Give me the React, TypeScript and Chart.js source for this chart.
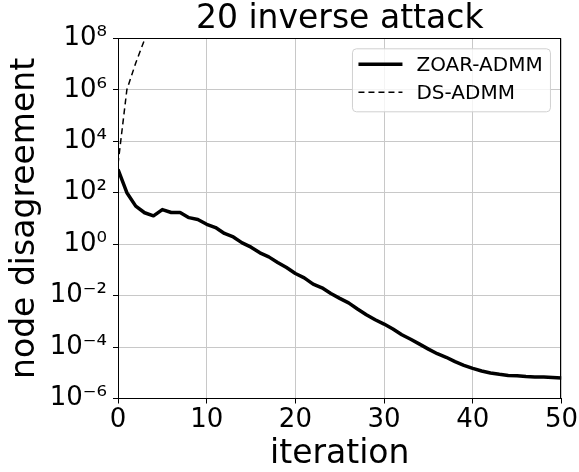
import { useEffect, useRef } from "react";
import { Chart, registerables } from "chart.js";

Chart.register(...registerables);

// ---- data ----
const iterations = [
  0, 1, 2, 3, 4, 5, 6, 7, 8, 9, 10, 11, 12, 13, 14, 15, 16, 17, 18, 19, 20,
  21, 22, 23, 24, 25, 26, 27, 28, 29, 30, 31, 32, 33, 34, 35, 36, 37, 38, 39,
  40, 41, 42, 43, 44, 45, 46, 47, 48, 49, 50,
];
const zoarAdmm = [
  8.0e2, 1.0e2, 30, 16.6, 12.6, 22, 17, 17, 10.7, 9.1, 5.9, 4.4, 2.6, 1.9,
  1.12, 0.76, 0.46, 0.32, 0.195, 0.123, 0.072, 0.049, 0.028, 0.02, 0.012,
  0.0078, 0.0052, 0.003, 0.0018, 0.00115, 7.8e-4, 5.0e-4, 3.0e-4, 2.0e-4,
  1.3e-4, 8.3e-5, 5.5e-5, 4.0e-5, 2.7e-5, 1.95e-5, 1.48e-5, 1.17e-5, 9.8e-6,
  8.7e-6, 7.9e-6, 7.6e-6, 7.1e-6, 6.9e-6, 6.8e-6, 6.5e-6, 6.3e-6,
];
const dsIterations = [0, 1, 2, 3, 4];
const dsAdmm = [1.3e3, 1.0e6, 1.1e7, 9e7, 6e8];

const xTickValues = [0, 10, 20, 30, 40, 50];
const yTickValues = [1e-6, 1e-4, 1e-2, 1, 1e2, 1e4, 1e6, 1e8];
const yTickLabels = ["10⁻⁶", "10⁻⁴", "10⁻²", "10⁰", "10²", "10⁴", "10⁶", "10⁸"];

const chartTitle = "20 inverse attack";
const xTitle = "iteration";
const yTitle = "node disagreement";
const seriesNames = ["ZOAR-ADMM", "DS-ADMM"];

const FONT = "'DejaVu Sans', sans-serif";

const framePlugin = {
  id: "frame",
  afterDatasetsDraw(chart: any) {
    const { ctx, chartArea } = chart;
    const l = Math.round(chartArea.left) + 0.5;
    const t = Math.round(chartArea.top) + 0.5;
    const r = Math.round(chartArea.right) - 0.5;
    const b = Math.round(chartArea.bottom) - 0.5;
    ctx.save();
    ctx.strokeStyle = "#000";
    ctx.lineWidth = 1;
    ctx.strokeRect(l, t, r - l, b - t);
    ctx.restore();
  },
};

const legendPlugin = {
  id: "boxLegend",
  afterDraw(chart: any) {
    const { ctx, chartArea } = chart;
    const w = 198;
    const h = 63;
    const x = chartArea.right - 11 - w;
    const y = chartArea.top + 10.5;
    ctx.save();
    ctx.beginPath();
    const rr = 4;
    ctx.moveTo(x + rr, y);
    ctx.arcTo(x + w, y, x + w, y + h, rr);
    ctx.arcTo(x + w, y + h, x, y + h, rr);
    ctx.arcTo(x, y + h, x, y, rr);
    ctx.arcTo(x, y, x + w, y, rr);
    ctx.closePath();
    ctx.fillStyle = "rgba(255,255,255,0.8)";
    ctx.fill();
    ctx.strokeStyle = "#d0d0d0";
    ctx.lineWidth = 1;
    ctx.stroke();
    chart.data.datasets.forEach((ds: any, i: number) => {
      const cy = y + 15.5 + i * 28;
      ctx.beginPath();
      ctx.setLineDash(ds.borderDash || []);
      ctx.lineWidth = ds.borderWidth;
      ctx.strokeStyle = ds.borderColor;
      ctx.moveTo(x + 6, cy);
      ctx.lineTo(x + 50, cy);
      ctx.stroke();
      ctx.setLineDash([]);
      ctx.fillStyle = "#000";
      ctx.font = `20px ${FONT}`;
      ctx.textBaseline = "middle";
      ctx.textAlign = "left";
      ctx.fillText(ds.label, x + 64, cy + 1);
    });
    ctx.restore();
  },
};

export default function App() {
  const ref = useRef<HTMLCanvasElement | null>(null);

  useEffect(() => {
    if (!ref.current) return;
    Chart.defaults.font.family = FONT;
    Chart.defaults.color = "#000";
    const chart = new Chart(ref.current, {
      type: "line",
      data: {
        datasets: [
          {
            label: seriesNames[0],
            data: iterations.map((x, i) => ({ x, y: zoarAdmm[i] })),
            borderColor: "#000",
            borderWidth: 3.5,
            borderJoinStyle: "round",
            pointRadius: 0,
            tension: 0,
            fill: false,
          },
          {
            label: seriesNames[1],
            data: dsIterations.map((x, i) => ({ x, y: dsAdmm[i] })),
            borderColor: "#000",
            borderWidth: 1.5,
            borderDash: [6, 4],
            pointRadius: 0,
            tension: 0,
            fill: false,
          },
        ],
      },
      options: {
        responsive: false,
        animation: false,
        layout: { padding: { left: 0, right: 17, top: 0, bottom: 0 } },
        plugins: {
          legend: { display: false },
          tooltip: { enabled: false },
          title: {
            display: true,
            text: chartTitle,
            fullSize: false,
            color: "#000",
            font: { size: 33, family: FONT, weight: "normal", lineHeight: 1.1 },
            padding: { top: 1, bottom: 1 },
          },
        },
        scales: {
          x: {
            type: "linear",
            min: 0,
            max: 50,
            afterFit: (s: any) => {
              s.height = 73.5;
            },
            afterBuildTicks: (s: any) => {
              s.ticks = xTickValues.map((v) => ({ value: v }));
            },
            ticks: {
              autoSkip: false,
              maxRotation: 0,
              padding: 1,
              color: "#000",
              font: { size: 26, family: FONT },
              callback: (v: any) => String(v),
            },
            grid: {
              color: "#c8c8c8",
              lineWidth: 1,
              tickColor: "#000",
              tickLength: 5,
              tickWidth: 1,
            },
            border: { display: true, color: "#000", width: 1 },
            title: {
              display: true,
              text: xTitle,
              color: "#000",
              font: { size: 33, family: FONT, lineHeight: 1 },
              padding: { top: 0, bottom: 1.5 },
            },
          },
          y: {
            type: "logarithmic",
            min: 1e-6,
            max: 1e8,
            afterFit: (s: any) => {
              s.width = 118;
            },
            afterBuildTicks: (s: any) => {
              s.ticks = yTickValues.map((v) => ({ value: v }));
            },
            ticks: {
              autoSkip: false,
              padding: 6,
              color: "#000",
              font: { size: 26, family: FONT },
              callback: (v: any) => {
                const idx = yTickValues.findIndex(
                  (t) => Math.abs(Math.log10(t) - Math.log10(Number(v))) < 1e-6
                );
                return idx >= 0 ? yTickLabels[idx] : "";
              },
            },
            grid: {
              color: "#c8c8c8",
              lineWidth: 1,
              tickColor: "#000",
              tickLength: 5,
              tickWidth: 1,
            },
            border: { display: true, color: "#000", width: 1 },
            title: {
              display: true,
              text: yTitle,
              color: "#000",
              font: { size: 33, family: FONT, lineHeight: 1 },
              padding: { top: 8.5, bottom: 0 },
            },
          },
        },
      },
      plugins: [framePlugin, legendPlugin],
    } as any);
    return () => chart.destroy();
  }, []);

  return (
    <div style={{ position: "fixed", left: 0, top: 0, width: 579, height: 472, background: "#fff" }}>
      <canvas ref={ref} width={579} height={472} style={{ display: "block" }} />
    </div>
  );
}
